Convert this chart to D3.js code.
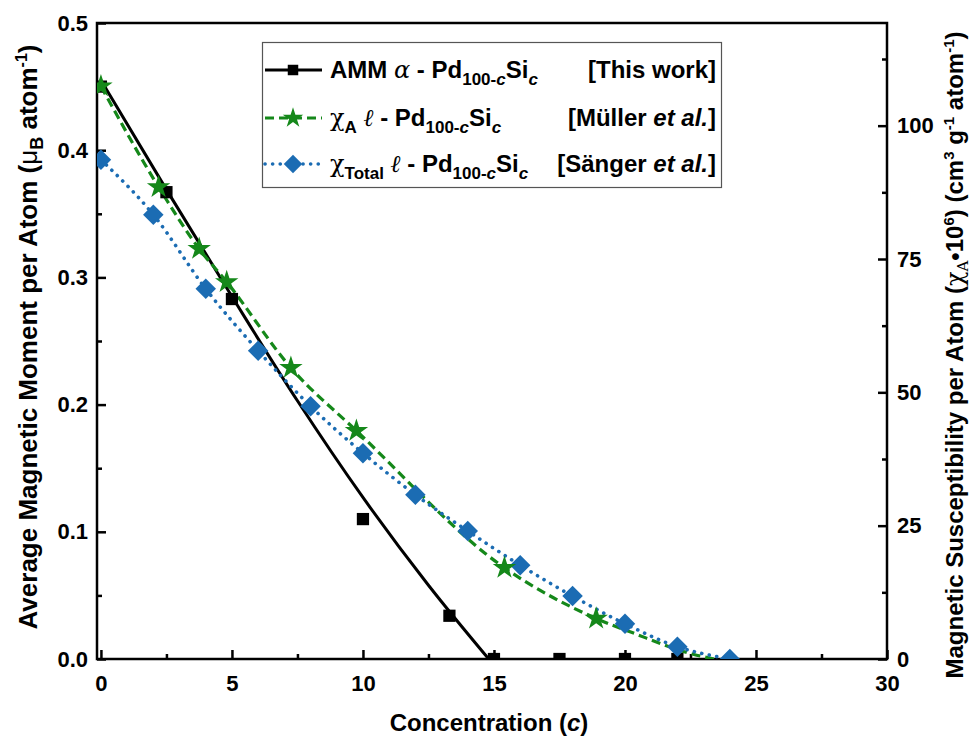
<!DOCTYPE html>
<html>
<head>
<meta charset="utf-8">
<script src="https://cdn.jsdelivr.net/npm/d3@7"></script>
<style>
  body { margin: 0; background: #fff; }
  text { font-family: "Liberation Sans", Arial, sans-serif; }
</style>
</head>
<body>
<div id="chart"></div>
<script>
// AMM a-Pd100-cSi(c), this work (left axis)
const ammX = [0, 2.5, 5, 10, 13.3, 15, 17.5, 20, 22];
const ammY = [0.45, 0.367, 0.283, 0.110, 0.034, 0, 0, 0, 0];
// fitted line drawn through the AMM points
const ammFitX = [0, 2.5, 5, 7.5, 10, 12.5, 14.8];
const ammFitY = [0.455, 0.369, 0.285, 0.203, 0.127, 0.058, 0];

// chi_A, Muller et al. (right axis)
const mullerX = [0, 2.2, 3.75, 4.8, 7.25, 9.75, 15.4, 18.9];
const mullerY = [107.4, 88.5, 76.9, 70.7, 54.6, 42.8, 17.1, 7.6];
const mullerTailX = [20.3, 22.6, 23.4];
const mullerTailY = [4.9, 0.9, 0];

// chi_Total, Sanger et al. (right axis)
const sangerX = [0, 2, 4, 6, 8, 10, 12, 14, 16, 18, 20, 22, 24];
const sangerY = [93.6, 83.3, 69.4, 57.8, 47.4, 38.6, 30.8, 24.0, 17.6, 11.8, 6.6, 2.3, 0];

const xTicks = [0, 5, 10, 15, 20, 25, 30];
const yTicks = [0, 0.1, 0.2, 0.3, 0.4, 0.5];
const y2Ticks = [0, 25, 50, 75, 100];

var margin = {top: 23, right: 87, bottom: 81, left: 97},
    width = 974 - margin.left - margin.right,
    height = 740 - margin.top - margin.bottom;

const BLUE = "#1b6cb3", GREEN = "#15881a";

const root = d3.select("#chart").append("svg")
    .attr("width", 974).attr("height", 740);
const svg = root.append("g")
    .attr("transform", `translate(${margin.left},${margin.top})`);

const x = d3.scaleLinear().domain([-0.15, 30]).range([0, width]);
const y = d3.scaleLinear().domain([0, 0.5]).range([height, 0]);
const y2 = d3.scaleLinear().domain([0, 119.25]).range([height, 0]);

svg.append("clipPath").attr("id", "clip")
  .append("rect").attr("width", width).attr("height", height);

// axes (ticks inward)
function styleAxis(g) {
  g.select(".domain").remove();
  g.selectAll(".tick line").attr("stroke", "#000").attr("stroke-width", 2.5);
  g.selectAll("text").attr("fill", "#000")
    .style("font-size", "22px").style("font-weight", "bold");
}

svg.append("g")
    .attr("transform", `translate(0,${height})`)
    .call(d3.axisBottom(x).tickValues(d3.range(2.5, 30, 5)).tickSize(-5).tickFormat(""))
    .call(styleAxis);
svg.append("g")
    .attr("transform", `translate(0,${height})`)
    .call(d3.axisBottom(x).tickValues(xTicks).tickSize(-9).tickPadding(16).tickFormat(d3.format("d")))
    .call(styleAxis);

svg.append("g")
    .call(d3.axisLeft(y).tickValues(d3.range(0.05, 0.5, 0.1)).tickSize(-5).tickFormat(""))
    .call(styleAxis);
svg.append("g")
    .call(d3.axisLeft(y).tickValues(yTicks).tickSize(-9).tickPadding(9).tickFormat(d3.format(".1f")))
    .call(styleAxis);

svg.append("g")
    .attr("transform", `translate(${width},0)`)
    .call(d3.axisRight(y2).tickValues(d3.range(12.5, 119, 25)).tickSize(-5).tickFormat(""))
    .call(styleAxis);
svg.append("g")
    .attr("transform", `translate(${width},0)`)
    .call(d3.axisRight(y2).tickValues(y2Ticks).tickSize(-9).tickPadding(10))
    .call(styleAxis);

svg.append("rect")
    .attr("width", width).attr("height", height)
    .attr("fill", "none").attr("stroke", "#000").attr("stroke-width", 2.5);

const plot = svg.append("g").attr("clip-path", "url(#clip)");

// lines
const lineL = d3.line().x(d => x(d[0])).y(d => y(d[1])).curve(d3.curveMonotoneX);
const lineR = d3.line().x(d => x(d[0])).y(d => y2(d[1])).curve(d3.curveMonotoneX);

plot.append("path")
    .datum(ammFitX.map((v, i) => [v, ammFitY[i]]))
    .attr("d", lineL)
    .attr("fill", "none").attr("stroke", "#000").attr("stroke-width", 3);

plot.append("path")
    .datum(mullerX.concat(mullerTailX).map((v, i) => [v, mullerY.concat(mullerTailY)[i]]))
    .attr("d", lineR)
    .attr("fill", "none").attr("stroke", GREEN).attr("stroke-width", 3.2)
    .attr("stroke-dasharray", "9 5");

plot.append("path")
    .datum(sangerX.map((v, i) => [v, sangerY[i]]))
    .attr("d", lineR)
    .attr("fill", "none").attr("stroke", BLUE).attr("stroke-width", 3.6)
    .attr("stroke-linecap", "round").attr("stroke-dasharray", "0.1 7.5");

// markers
const star = d3.symbol().type(d3.symbolStar).size(170);
const sq = d3.symbol().type(d3.symbolSquare).size(150);
const dia = d3.symbol().type(d3.symbolSquare).size(210);

plot.selectAll("path.sq")
  .data(ammX.map((v, i) => [v, ammY[i]]))
  .join("path").attr("class", "sq")
    .attr("d", sq)
    .attr("transform", d => `translate(${x(d[0])},${y(d[1])})`)
    .attr("fill", "#000");

plot.selectAll("path.dia")
  .data(sangerX.map((v, i) => [v, sangerY[i]]))
  .join("path").attr("class", "dia")
    .attr("d", dia)
    .attr("transform", d => `translate(${x(d[0])},${y2(d[1])}) rotate(45)`)
    .attr("fill", BLUE);

plot.selectAll("path.star")
  .data(mullerX.map((v, i) => [v, mullerY[i]]))
  .join("path").attr("class", "star")
    .attr("d", star)
    .attr("transform", d => `translate(${x(d[0])},${y2(d[1])})`)
    .attr("fill", GREEN);

// rich text helper
function rich(sel, parts) {
  parts.forEach(p => {
    const t = sel.append("tspan").text(p.t);
    if (p.it) t.style("font-style", "italic");
    if (p.nb) t.style("font-weight", "normal");
    if (p.ff) t.style("font-family", p.ff);
    if (p.fs) t.style("font-size", p.fs);
    if (p.dy) t.attr("dy", p.dy);
  });
  return sel;
}

// axis titles
rich(root.append("text")
    .attr("transform", `translate(37,${margin.top + height / 2 - 4}) rotate(-90)`)
    .attr("text-anchor", "middle")
    .style("font-size", "26px").style("font-weight", "bold"),
  [{t: "Average Magnetic Moment per Atom ("},
   {t: "μ", nb: true},
   {t: "B", dy: 6, fs: "18px"},
   {t: " atom", dy: -6},
   {t: "-1", dy: -10, fs: "16px"},
   {t: ")", dy: 10}]);

rich(root.append("text")
    .attr("transform", `translate(963,${margin.top + height / 2 + 14}) rotate(-90)`)
    .attr("text-anchor", "middle")
    .style("font-size", "24px").style("font-weight", "bold"),
  [{t: "Magnetic Susceptibility per Atom ("},
   {t: "χ", nb: true, ff: "DejaVu Serif"},
   {t: "A", dy: 5, fs: "15px", nb: true, ff: "DejaVu Serif"},
   {t: "•10", dy: -5},
   {t: "6", dy: -9, fs: "15px"},
   {t: ") (cm", dy: 9},
   {t: "3", dy: -9, fs: "15px"},
   {t: " g", dy: 9},
   {t: "-1", dy: -9, fs: "15px"},
   {t: " atom", dy: 9},
   {t: "-1", dy: -9, fs: "15px"},
   {t: ")", dy: 9}]);

rich(root.append("text")
    .attr("x", margin.left + width / 2 - 3).attr("y", 731)
    .attr("text-anchor", "middle")
    .style("font-size", "24px").style("font-weight", "bold"),
  [{t: "Concentration ("}, {t: "c", it: true}, {t: ")"}]);

// legend
const lg = root.append("g");
lg.append("rect")
    .attr("x", 262.5).attr("y", 42.5).attr("width", 459).attr("height", 145)
    .attr("fill", "#fff").attr("stroke", "#555").attr("stroke-width", 1.2);

const rows = [70, 118, 164];
const sx0 = 265, sx1 = 322, sm = 293;

lg.append("line").attr("x1", sx0).attr("x2", sx1).attr("y1", rows[0]).attr("y2", rows[0])
    .attr("stroke", "#000").attr("stroke-width", 3);
lg.append("path").attr("d", d3.symbol().type(d3.symbolSquare).size(110))
    .attr("transform", `translate(${sm},${rows[0]})`).attr("fill", "#000");

lg.append("line").attr("x1", sx0).attr("x2", sx1).attr("y1", rows[1]).attr("y2", rows[1])
    .attr("stroke", GREEN).attr("stroke-width", 3.2).attr("stroke-dasharray", "9 5");
lg.append("path").attr("d", d3.symbol().type(d3.symbolStar).size(130))
    .attr("transform", `translate(${sm},${rows[1]})`).attr("fill", GREEN);

lg.append("line").attr("x1", sx0).attr("x2", sx1).attr("y1", rows[2]).attr("y2", rows[2])
    .attr("stroke", BLUE).attr("stroke-width", 3.6).attr("stroke-linecap", "round")
    .attr("stroke-dasharray", "0.1 7.5");
lg.append("path").attr("d", d3.symbol().type(d3.symbolSquare).size(170))
    .attr("transform", `translate(${sm},${rows[2]}) rotate(45)`).attr("fill", BLUE);

const alloy = [
  {t: " - Pd"},
  {t: "100-", dy: 7, fs: "17px"},
  {t: "c", it: true, fs: "17px"},
  {t: "Si", dy: -7},
  {t: "c", it: true, dy: 7, fs: "17px"}];

function legText(row, parts) {
  return rich(lg.append("text").attr("x", 330).attr("y", row + 8)
      .style("font-size", "24px").style("font-weight", "bold"), parts);
}
legText(rows[0], [{t: "AMM "}, {t: "ɑ", it: true, nb: true, ff: "DejaVu Serif"}].concat(alloy));
legText(rows[1], [{t: "χ", nb: true, ff: "DejaVu Serif"}, {t: "A", dy: 7, fs: "17px"},
  {t: " ", dy: -7}, {t: "ℓ", it: true, nb: true, ff: "DejaVu Serif"}].concat(alloy));
legText(rows[2], [{t: "χ", nb: true, ff: "DejaVu Serif"}, {t: "Total", dy: 7, fs: "17px"},
  {t: " ", dy: -7}, {t: "ℓ", it: true, nb: true, ff: "DejaVu Serif"}].concat(alloy));

function refText(row, parts) {
  return rich(lg.append("text").attr("x", 716).attr("y", row + 8)
      .attr("text-anchor", "end")
      .style("font-size", "24px").style("font-weight", "bold"), parts);
}
refText(rows[0], [{t: "[This work]"}]);
refText(rows[1], [{t: "[Müller "}, {t: "et al.", it: true}, {t: "]"}]);
refText(rows[2], [{t: "[Sänger "}, {t: "et al.", it: true}, {t: "]"}]);
</script>
</body>
</html>
